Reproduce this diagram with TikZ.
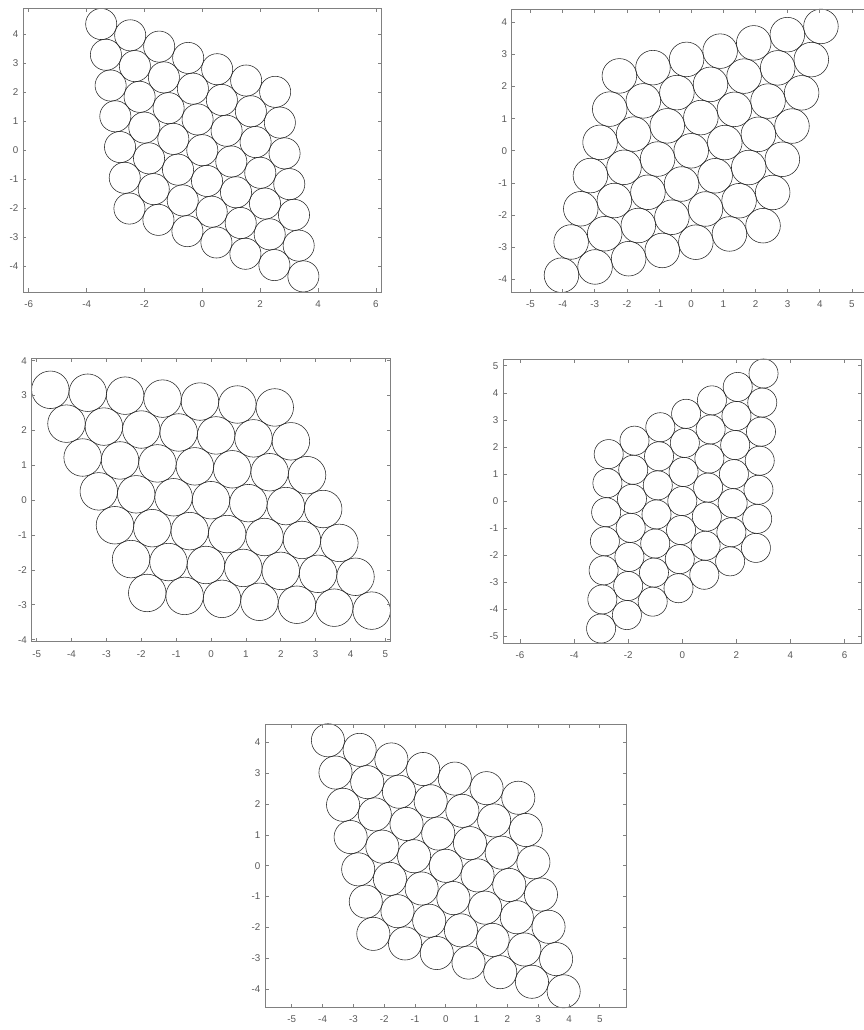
\documentclass[tikz,border=0pt]{standalone}
\usepackage{fontspec}
\setmainfont{Liberation Sans}
\newcommand\axesbox[7]{%
  \draw[axline] (#2,#4) rectangle (#3,#5);
  \foreach \t [count=\k] in {#6} {
    \draw[axline] (\t,#4) -- ++(0pt,3.5pt);
    \draw[axline] (\t,#5) -- ++(0pt,-3.5pt);
    \node[ticklab,anchor=north,yshift=-8.5pt] (#1x\k) at (\t,#4) {\t};
  }
  \foreach \t [count=\k] in {#7} {
    \draw[axline] (#2,\t) -- ++(3.5pt,0pt);
    \draw[axline] (#3,\t) -- ++(-3.5pt,0pt);
    \node[ticklab,anchor=east,xshift=-4.5pt] (#1y\k) at (#2,\t) {\t};
  }
}
\newcommand\lattice[3]{%
  \foreach \i in {-3,...,3}{\foreach \j in {-3,...,3}{
    \draw[circ] ({\i*#3*cos(#1)+\j*#3*cos(#2)},{\i*#3*sin(#1)+\j*#3*sin(#2)}) circle[radius=#3/2];
  }}
}
\begin{document}
\begin{tikzpicture}[x=1pt,y=-1pt,
  circ/.style={line width=0.55pt, black!85},
  axline/.style={line width=0.65pt, black!50},
  ticklab/.style={font=\fontsize{9.8}{11}\selectfont, text=black!65, inner sep=0pt}]
\useasboundingbox (0,0) rectangle (864,1030);
\fill[white] (0,0) rectangle (864,1030);
\clip (0,0) rectangle (864,1030);
% plot 1
\begin{scope}[shift={(202.3,150.2)}, x={(28.92pt,0pt)}, y={(0pt,28.92pt)}]
  \lattice{-21.3}{-81.3}{1.076}
  \axesbox{pa}{-6.2}{6.2}{-4.9}{4.9}{-6,-4,-2,0,2,4,6}{-4,-3,-2,-1,0,1,2,3,4}
\end{scope}
% plot 2
\begin{scope}[shift={(691.2,150.8)}, x={(32.15pt,0pt)}, y={(0pt,32.15pt)}]
  \lattice{13.8}{73.8}{1.076}
  \axesbox{pb}{-5.58}{5.6}{-4.4}{4.4}{-5,-4,-3,-2,-1,0,1,2,3,4,5}{-4,-3,-2,-1,0,1,2,3,4}
\end{scope}
% plot 3
\begin{scope}[shift={(211,500.2)}, x={(34.87pt,0pt)}, y={(0pt,34.87pt)}]
  \lattice{-4.5}{-64.5}{1.076}
  \axesbox{pc}{-5.15}{5.15}{-4.06}{4.06}{-5,-4,-3,-2,-1,0,1,2,3,4,5}{-4,-3,-2,-1,0,1,2,3,4}
\end{scope}
% plot 4
\begin{scope}[shift={(682.3,501)}, x={(27.04pt,0pt)}, y={(0pt,27.04pt)}]
  \lattice{27.5}{87.5}{1.076}
  \axesbox{pd}{-6.63}{6.63}{-5.25}{5.25}{-6,-4,-2,0,2,4,6}{-5,-4,-3,-2,-1,0,1,2,3,4,5}
\end{scope}
% plot 5
\begin{scope}[shift={(445.8,865.8)}, x={(30.8pt,0pt)}, y={(0pt,30.8pt)}]
  \lattice{-16.8}{-76.8}{1.076}
  \axesbox{pe}{-5.87}{5.87}{-4.59}{4.59}{-5,-4,-3,-2,-1,0,1,2,3,4,5}{-4,-3,-2,-1,0,1,2,3,4}
\end{scope}
\end{tikzpicture}
\end{document}
